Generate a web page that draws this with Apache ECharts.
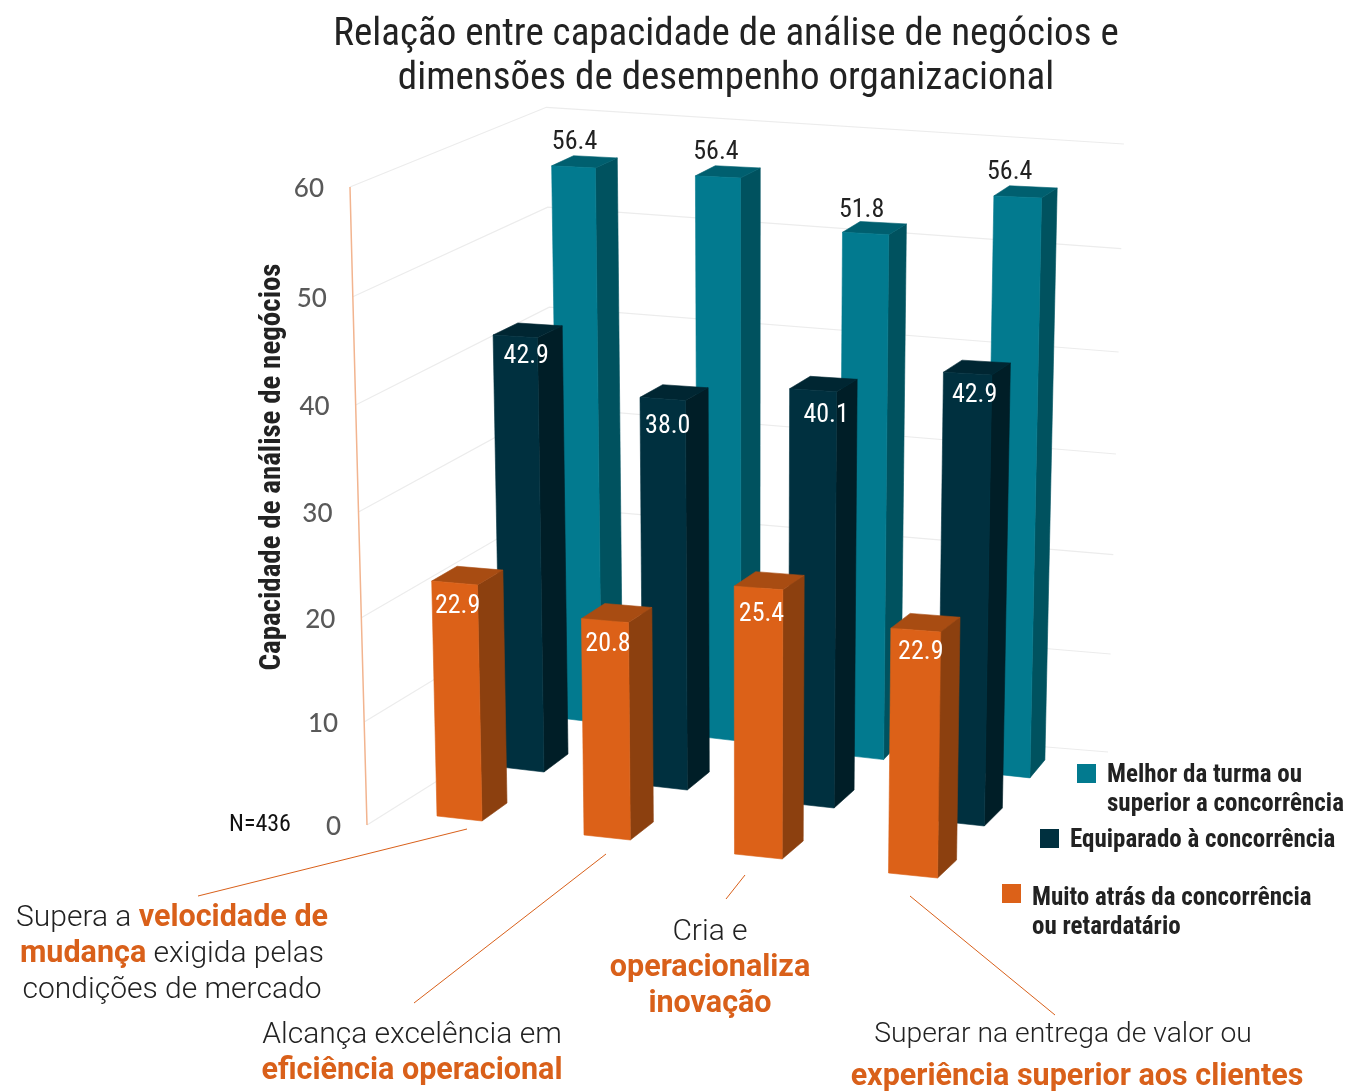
<!DOCTYPE html>
<html>
<head>
<meta charset="utf-8">
<style>html,body{margin:0;padding:0;background:#fff}#chart{width:1348px;height:1091px}</style>
<script src="https://cdn.jsdelivr.net/npm/echarts@6/dist/echarts.min.js"></script>
</head>
<body>
<div id="chart"></div>
<script>
const categories = ['Velocidade de mudança', 'Eficiência operacional', 'Inovação', 'Experiência dos clientes'];
const melhorValues = [56.4, 56.4, 51.8, 56.4];
const equiparadoValues = [42.9, 38.0, 40.1, 42.9];
const atrasValues = [22.9, 20.8, 25.4, 22.9];
const yTicks = [0, 10, 20, 30, 40, 50, 60];
const seriesNames = ['Melhor da turma ou superior a concorrência', 'Equiparado à concorrência', 'Muito atrás da concorrência ou retardatário'];
const legendLines = ['Melhor da turma ou\nsuperior a concorrência', 'Equiparado à concorrência', 'Muito atrás da concorrência\nou retardatário'];
const titleText = 'Relação entre capacidade de análise de negócios e\ndimensões de desempenho organizacional';
const yName = 'Capacidade de análise de negócios';
const sampleNote = 'N=436';

const CONDENSED = '"Roboto Condensed", Roboto';
const ORANGE = '#d9601a';

// fake 3D: every row of bars has its own grid, the rest is a small skew on top of api.coord
const rows = {
    melhor: {
        front: '#027a8f', side: '#00525f', top: '#005f6f', width: 42, depthX: 21, floorStep: 18.3, grow: 0.015,
        labelFill: '#222', labelX: [1, -2, -4, -8], labelY: [-26, -26, -25, -26]
    },
    equiparado: {
        front: '#00303f', side: '#001e27', top: '#002632', width: 43, depthX: 24, floorStep: 18, grow: 0.013,
        labelFill: '#fff', labelX: [11, 5, 13, 7], labelY: [19, 26, 24, 20]
    },
    atras: {
        front: '#dc6118', side: '#8c400f', top: '#a84c12', width: 45, depthX: 25, floorStep: 19, grow: 0.014,
        labelFill: '#fff', labelX: [3, 3, 3, 5], labelY: [22, 23, 25, 21]
    }
};

// everything leans towards a vanishing point far below the chart
function lean(x, v) {
    return x + (x - 750) * v * 0.00074;
}

function barPoint(row, api, i, u, d, v) {
    const base = api.coord([i, 0]);
    const top = api.coord([i, v]);
    const w = row.width * (1 + 0.03 * i);
    const x0 = base[0] - row.width / 2 + 1.75 * i * (i - 1);
    const y0 = base[1] + row.floorStep * i;
    const h = (base[1] - top[1]) * (1 + row.grow * i);
    const x = x0 + u * w + d * (row.depthX - 2 * i);
    const y = y0 - h + u * (5 - v * 0.05) + d * (-18 + v * 0.14);
    return [lean(x, v), y];
}

function face(points, fill) {
    return { type: 'polygon', shape: { points: points }, style: { fill: fill, stroke: fill, lineWidth: 0.6 } };
}

function barRenderer(row) {
    return function (params, api) {
        const i = api.value(0);
        const v = api.value(1);
        const p = (u, d, val) => barPoint(row, api, i, u, d, val);
        return {
            type: 'group',
            children: [
                face([p(1, 0, 0), p(1, 1, 0), p(1, 1, v), p(1, 0, v)], row.side),
                face([p(0, 0, v), p(1, 0, v), p(1, 1, v), p(0, 1, v)], row.top),
                face([p(0, 0, 0), p(1, 0, 0), p(1, 0, v), p(0, 0, v)], row.front),
                {
                    type: 'text',
                    x: p(0.5, 0, v)[0] + row.labelX[i],
                    y: p(0, 0, v)[1] + row.labelY[i] + 3,
                    style: { text: v.toFixed(1), fill: row.labelFill, font: '26px ' + CONDENSED, align: 'center', verticalAlign: 'middle' }
                }
            ]
        };
    };
}

function barSeries(name, values, row, gridIndex, z) {
    return {
        type: 'custom',
        name: name,
        xAxisIndex: gridIndex,
        yAxisIndex: gridIndex,
        z: z,
        clip: false,
        itemStyle: { color: row.front },
        renderItem: barRenderer(row),
        data: values.map((v, i) => [i, v])
    };
}

// left wall, back wall and tick labels, one item per tick
function bow(v) {
    return 0.0067 * v * (60 - v);
}

function wallRenderer(params, api) {
    const v = api.value(0);
    const zero = api.coord([0, 0]);
    const at = api.coord([0, v]);
    const rise = zero[1] - at[1];
    const a = [lean(zero[0], v), at[1] + bow(v)];
    const b = [lean(555, v), 707 - rise * 0.94];
    const c = [lean(1108, v), 752 - rise * 0.953 + bow(v)];
    return {
        type: 'group',
        children: [
            { type: 'polyline', shape: { points: [a, b, c] }, style: { fill: 'none', stroke: '#ececec', lineWidth: 1.2 } },
            { type: 'text', x: a[0] - 26, y: a[1] + 2, style: { text: String(v), fill: '#595959', font: '500 26px Lato', align: 'right', verticalAlign: 'middle' } }
        ]
    };
}

function axisRenderer(params, api) {
    const pts = yTicks.map(v => [lean(api.coord([0, 0])[0], v), api.coord([0, v])[1] + bow(v)]);
    return { type: 'polyline', shape: { points: pts }, style: { fill: 'none', stroke: '#f2b48f', lineWidth: 1.5 } };
}

// legend icon: square on top, rest of the item height stays blank so it sits on the first text line
function legendAt(name, left, top, iconHeight) {
    return {
        data: [name],
        left: left,
        top: top,
        padding: 0,
        icon: 'path://M0,0H19V19H0ZM0,' + iconHeight + 'L0,' + iconHeight + 'Z',
        itemWidth: 19,
        itemHeight: iconHeight,
        selectedMode: false,
        formatter: n => legendLines[seriesNames.indexOf(n)],
        textStyle: { fontFamily: CONDENSED, fontWeight: 'bold', fontSize: 25, lineHeight: 29, color: '#222', padding: [0, 0, 0, 6] }
    };
}

function note(text, x, y, size) {
    return {
        type: 'text',
        x: x,
        y: y,
        style: {
            text: text,
            fill: '#222',
            font: '300 ' + (size || 30) + 'px Roboto',
            align: 'center',
            verticalAlign: 'middle',
            lineHeight: 36,
            rich: { o: { fill: ORANGE, font: 'bold 30.5px Roboto', lineHeight: 36 } }
        }
    };
}

function leader(x1, y1, x2, y2) {
    return { type: 'line', shape: { x1, y1, x2, y2 }, style: { stroke: ORANGE, lineWidth: 1 } };
}

const chart = echarts.init(document.getElementById('chart'));

const hiddenX = gridIndex => ({ type: 'category', data: categories, gridIndex: gridIndex, show: false });
const hiddenY = gridIndex => ({ type: 'value', min: 0, max: 60, interval: 10, gridIndex: gridIndex, show: false });

chart.setOption({
    animation: false,
    backgroundColor: '#fff',
    title: {
        text: titleText,
        left: 721,
        top: 8,
        textAlign: 'center',
        textStyle: { fontFamily: CONDENSED, fontWeight: 'normal', fontSize: 39, lineHeight: 44, color: '#222' }
    },
    legend: [
        legendAt(seriesNames[0], 1077, 761, 52),
        legendAt(seriesNames[1], 1040, 826, 23),
        legendAt(seriesNames[2], 1002, 884, 58)
    ],
    grid: [
        { left: 511.6, width: 552, top: 130.6, height: 587.4 },
        { left: 451.5, width: 568, top: 162.8, height: 604.2 },
        { left: 386, width: 588, top: 200.4, height: 615.6 },
        { left: 367, width: 100, top: 187, height: 638 }
    ],
    xAxis: [hiddenX(0), hiddenX(1), hiddenX(2), { type: 'value', min: 0, max: 1, gridIndex: 3, show: false }],
    yAxis: [
        hiddenY(0),
        hiddenY(1),
        hiddenY(2),
        {
            type: 'value',
            min: 0,
            max: 60,
            interval: 10,
            gridIndex: 3,
            name: yName,
            nameLocation: 'middle',
            nameGap: 80,
            nameTextStyle: { fontFamily: CONDENSED, fontWeight: 'bold', fontSize: 29, color: '#222', padding: [0, 0, 0, 78] },
            axisLine: { show: false },
            axisTick: { show: false },
            axisLabel: { show: false },
            splitLine: { show: false }
        }
    ],
    series: [
        {
            type: 'custom', xAxisIndex: 3, yAxisIndex: 3, z: 1, clip: false, silent: true,
            renderItem: wallRenderer,
            encode: { x: 1, y: 0 },
            data: yTicks.map(v => [v, 0])
        },
        {
            type: 'custom', xAxisIndex: 3, yAxisIndex: 3, z: 2, clip: false, silent: true,
            renderItem: axisRenderer,
            encode: { x: 1, y: 0 },
            data: [[0, 0]]
        },
        barSeries(seriesNames[0], melhorValues, rows.melhor, 0, 3),
        barSeries(seriesNames[1], equiparadoValues, rows.equiparado, 1, 4),
        barSeries(seriesNames[2], atrasValues, rows.atras, 2, 5)
    ],
    graphic: [
        { type: 'text', x: 260, y: 825, style: { text: sampleNote, fill: '#111', font: '24px ' + CONDENSED, align: 'center', verticalAlign: 'middle' } },
        leader(467, 829, 198, 896),
        leader(606, 854, 414, 1003),
        leader(745, 875, 726, 899),
        leader(910, 896, 1055, 1015),
        note('Supera a {o|velocidade de}\n{o|mudança} exigida pelas\ncondições de mercado', 172, 954),
        note('Alcança excelência em\n{o|eficiência operacional}', 412, 1053),
        note('Cria e\n{o|operacionaliza}\n{o|inovação}', 710, 968),
        note('Superar na entrega de valor ou', 1063, 1035, 28.3),
        note('{o|experiência superior aos clientes}', 1077, 1077)
    ]
});
</script>
</body>
</html>
